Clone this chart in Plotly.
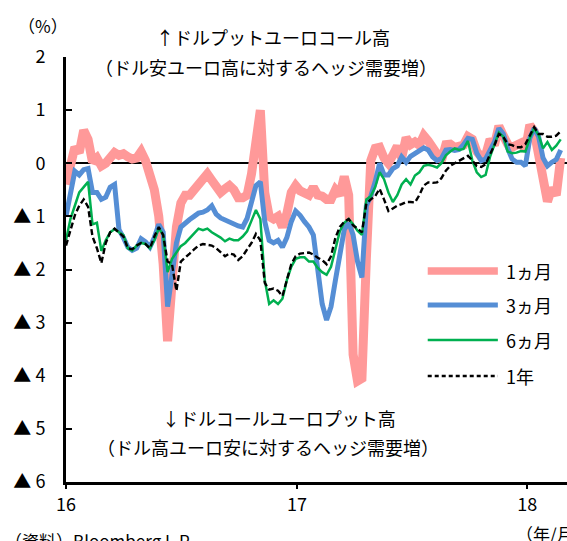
import pandas as pd
import plotly.graph_objects as go

# Weekly observations of 25-delta risk reversals (USD put / EUR call, %)
dates = pd.date_range("2016-01-01", periods=113, freq="7D")

rr_1m = [
    -0.40, 0.05, 0.30, 0.20, 0.62, 0.45, 0.02, 0.10, -0.05, 0.00,
    0.10, 0.20, 0.15, 0.18, 0.12, 0.08, 0.10, 0.22, 0.05, -0.22,
    -0.50, -1.00, -1.90, -3.35, -2.40, -1.20, -0.75, -0.60, -0.60, -0.50,
    -0.40, -0.35, -0.20, -0.32, -0.48, -0.55, -0.48, -0.42, -0.50, -0.65,
    -0.65, -0.60, -0.20, 0.40, 1.00, -0.55, -1.00, -1.05, -1.00, -1.20,
    -0.95, -0.55, -0.42, -0.52, -0.58, -0.60, -0.45, -0.60, -0.62, -0.68,
    -0.68, -0.50, -0.60, -0.25, -0.60, -3.60, -4.10, -4.05, -1.80, 0.05,
    0.28, 0.30, 0.10, 0.00, 0.15, 0.32, 0.10, 0.48, 0.35, 0.40,
    0.34, 0.52, 0.42, 0.28, 0.20, 0.05, 0.35, 0.36, 0.30, 0.30,
    0.34, 0.50, 0.45, 0.22, 0.12, 0.15, 0.45, 0.34, 0.70, 0.52,
    0.36, 0.30, 0.32, 0.38, 0.25, 0.72, 0.60, 0.20, -0.40, -0.72,
    -0.47, -0.60, 0.10,
]

rr_3m = [
    -1.00, -0.55, -0.15, -0.22, -0.12, -0.10, -0.55, -0.55, -0.68, -0.64,
    -0.45, -0.40, -1.25, -1.40, -1.58, -1.64, -1.60, -1.42, -1.48, -1.58,
    -1.40, -1.15, -1.30, -2.70, -2.00, -1.50, -1.20, -1.12, -1.06, -1.00,
    -0.94, -0.92, -0.88, -0.80, -0.96, -1.03, -1.07, -1.10, -1.15, -1.18,
    -1.20, -1.04, -0.73, -0.42, -0.35, -1.10, -1.45, -1.50, -1.45, -1.58,
    -1.40, -1.10, -0.90, -0.98, -1.10, -1.20, -1.35, -2.10, -2.65, -2.95,
    -2.70, -2.20, -1.70, -1.25, -1.12, -1.35, -1.85, -2.15, -0.80, -0.62,
    -0.35, 0.00, -0.22, -0.22, -0.10, -0.05, 0.12, 0.02, 0.13, 0.18,
    0.22, 0.29, 0.25, 0.12, 0.05, 0.09, 0.25, 0.26, 0.24, 0.26,
    0.35, 0.47, 0.45, 0.19, 0.05, 0.08, 0.24, 0.40, 0.66, 0.55,
    0.28, 0.08, 0.02, 0.02, -0.05, 0.47, 0.66, 0.50, 0.10, -0.05,
    0.02, 0.07, 0.25,
]

rr_6m = [
    -1.45, -1.05, -0.80, -0.55, -0.45, -0.35, -1.15, -1.12, -1.65, -1.45,
    -1.30, -1.24, -1.30, -1.35, -1.60, -1.64, -1.55, -1.50, -1.52, -1.60,
    -1.45, -1.22, -1.35, -2.05, -1.80, -1.68, -1.56, -1.50, -1.41, -1.30,
    -1.23, -1.26, -1.23, -1.30, -1.35, -1.40, -1.47, -1.42, -1.45, -1.45,
    -1.38, -1.28, -1.08, -0.88, -1.05, -2.20, -2.65, -2.58, -2.65, -2.55,
    -2.20, -1.95, -1.80, -1.77, -1.77, -1.85, -1.85, -1.97, -2.05, -2.10,
    -1.95, -1.60, -1.28, -1.12, -1.05, -1.15, -1.27, -1.35, -0.68, -0.62,
    -0.45, -0.17, -0.30, -0.55, -0.73, -0.60, -0.40, -0.30, -0.40, -0.23,
    -0.17, -0.05, -0.03, -0.05, -0.08, 0.00, 0.15, 0.22, 0.28, 0.25,
    0.27, 0.42, 0.05, -0.17, -0.26, -0.22, 0.12, 0.35, 0.58, 0.50,
    0.22, 0.19, 0.20, 0.23, 0.22, 0.47, 0.66, 0.53, 0.28, 0.40,
    0.25, 0.33, 0.45,
]

rr_1y = [
    -1.55, -1.25, -0.98, -0.80, -0.68, -0.82, -1.38, -1.60, -1.88, -1.50,
    -1.30, -1.23, -1.30, -1.38, -1.60, -1.62, -1.55, -1.50, -1.52, -1.60,
    -1.38, -1.20, -1.35, -1.85, -1.90, -2.40, -1.85, -1.78, -1.70, -1.62,
    -1.55, -1.52, -1.53, -1.55, -1.60, -1.67, -1.75, -1.70, -1.72, -1.82,
    -1.75, -1.62, -1.50, -1.33, -1.45, -2.25, -2.38, -2.36, -2.40, -2.50,
    -2.20, -1.90, -1.75, -1.70, -1.69, -1.68, -1.72, -1.78, -1.82, -1.90,
    -1.75, -1.40, -1.20, -1.10, -1.05, -1.17, -1.23, -1.30, -0.76, -0.68,
    -0.62, -0.48, -0.68, -0.90, -0.85, -0.80, -0.77, -0.73, -0.73, -0.74,
    -0.60, -0.42, -0.36, -0.37, -0.36, -0.28, -0.14, -0.05, 0.00, 0.05,
    0.10, 0.14, 0.05, -0.05, -0.07, -0.02, 0.17, 0.34, 0.55, 0.50,
    0.36, 0.34, 0.30, 0.30, 0.36, 0.53, 0.68, 0.55, 0.55, 0.50,
    0.50, 0.52, 0.60,
]

series_names = ["1ヵ月", "3ヵ月", "6ヵ月", "1年"]
series_values = [rr_1m, rr_3m, rr_6m, rr_1y]
series_colors = ["#FF9999", "#558ED5", "#00B050", "#000000"]
series_widths = [9, 5, 2.5, 2.4]
series_dash = ["solid", "solid", "solid", "6px,3px"]

y_tickvals = [-6, -5, -4, -3, -2, -1, 0, 1, 2]
y_ticktext = ["▲ 6", "▲ 5", "▲ 4", "▲ 3", "▲ 2", "▲ 1", "0", "1", "2"]
x_tickvals = ["2016-01-01", "2017-01-01", "2018-01-01"]
x_ticktext = ["16", "17", "18"]

FONT = "Noto Sans CJK JP"

fig = go.Figure()
for name, vals, col, w, d in zip(series_names, series_values, series_colors,
                                 series_widths, series_dash):
    fig.add_trace(go.Scatter(
        x=dates, y=vals, mode="lines", name=name,
        line=dict(color=col, width=w, dash=d),
        showlegend=False,
    ))

# Hand-placed legend on the right side of the plot area
legend_rows = [0.4965, 0.4165, 0.334, 0.2494]
for name, col, w, d, yy in zip(series_names, series_colors, series_widths,
                               series_dash, legend_rows):
    fig.add_shape(type="line", xref="paper", yref="paper",
                  x0=0.722, x1=0.862, y0=yy, y1=yy,
                  line=dict(color=col, width=min(w, 7.5),
                            dash=("4px,3px" if d != "solid" else "solid")))
    fig.add_annotation(text=name, xref="paper", yref="paper",
                       x=0.874, y=yy, xanchor="left", yanchor="middle",
                       showarrow=False, font=dict(size=18, color="black"))

notes = [
    ("↑ドルプットユーロコール高", 0.413, 1.047),
    ("（ドル安ユーロ高に対するヘッジ需要増）", 0.400, 0.976),
    ("↓ドルコールユーロプット高", 0.425, 0.1506),
    ("（ドル高ユーロ安に対するヘッジ需要増）", 0.403, 0.0824),
]
for txt, xx, yy in notes:
    fig.add_annotation(text=txt, xref="paper", yref="paper", x=xx, y=yy,
                       xanchor="center", yanchor="middle", showarrow=False,
                       font=dict(size=18, color="black"))

fig.add_annotation(text="（%）", xref="paper", yref="paper", x=-0.046, y=1.075,
                   xanchor="center", yanchor="middle", showarrow=False,
                   font=dict(size=17, color="black"))
fig.add_annotation(text="（資料）Bloomberg L.P.", xref="paper", yref="paper",
                   x=-0.125, y=-0.104, xanchor="left", yanchor="top",
                   showarrow=False, font=dict(size=17, color="black"))
fig.add_annotation(text="（年/月）", xref="paper", yref="paper",
                   x=0.895, y=-0.088, xanchor="left", yanchor="top",
                   showarrow=False, font=dict(size=17, color="black"))

fig.update_layout(
    width=567, height=541,
    margin=dict(l=66, r=0, t=57, b=59),
    paper_bgcolor="white", plot_bgcolor="white",
    font=dict(family=FONT, color="black", size=17),
    xaxis=dict(
        type="date", range=["2016-01-01", "2018-03-05"],
        tickvals=x_tickvals, ticktext=x_ticktext,
        showgrid=False, zeroline=False,
        showline=True, linecolor="black", linewidth=3,
        ticks="outside", ticklen=4, tickwidth=2, tickcolor="black",
        tickfont=dict(size=18),
    ),
    yaxis=dict(
        range=[-6, 2], tickvals=y_tickvals, ticktext=y_ticktext,
        showgrid=False,
        zeroline=True, zerolinecolor="black", zerolinewidth=2,
        showline=True, linecolor="black", linewidth=3,
        ticks="inside", ticklen=6, tickwidth=2, tickcolor="black",
        ticklabelstandoff=14, tickfont=dict(size=18),
    ),
)

fig.write_html("out.html")
